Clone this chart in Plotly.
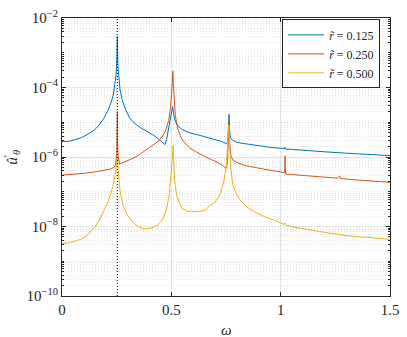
import plotly.graph_objects as go
import numpy as np

# omega values and log10 of amplitude
omega_a = [0.000, 0.03, 0.06, 0.09, 0.12, 0.15, 0.17, 0.19, 0.21, 0.225, 0.235, 0.242, 0.247, 0.250,
           0.252, 0.253, 0.254, 0.256, 0.26, 0.265, 0.275, 0.29, 0.31, 0.335, 0.36, 0.39, 0.42, 0.445,
           0.462, 0.470, 0.478, 0.487, 0.495, 0.501, 0.506, 0.510, 0.515, 0.522, 0.535, 0.55, 0.58,
           0.62, 0.66, 0.70, 0.73, 0.752, 0.758, 0.762, 0.764, 0.766, 0.770, 0.78, 0.80, 0.84, 0.90,
           0.95, 1.00, 1.017, 1.019, 1.021, 1.05, 1.10, 1.20, 1.30, 1.40, 1.50]
logu_a = [-5.56, -5.55, -5.50, -5.44, -5.34, -5.21, -5.08, -4.90, -4.66, -4.42, -4.20, -3.95, -3.65, -3.30,
          -2.90, -2.52, -2.95, -3.40, -3.75, -4.05, -4.35, -4.62, -4.88, -5.05, -5.16, -5.27, -5.38, -5.50,
          -5.58, -5.64, -5.50, -5.20, -4.95, -4.75, -4.55, -4.75, -4.92, -5.02, -5.14, -5.21, -5.30,
          -5.36, -5.44, -5.50, -5.55, -5.62, -5.55, -5.00, -4.77, -5.20, -5.45, -5.52, -5.58, -5.62, -5.68,
          -5.72, -5.75, -5.76, -5.72, -5.77, -5.78, -5.81, -5.85, -5.89, -5.92, -5.96]

omega_b = [0.000, 0.05, 0.10, 0.15, 0.19, 0.22, 0.238, 0.246, 0.250, 0.252, 0.253, 0.254, 0.256, 0.259,
           0.263, 0.268, 0.28, 0.30, 0.32, 0.35, 0.38, 0.41, 0.44, 0.46, 0.475, 0.488, 0.496, 0.502,
           0.505, 0.507, 0.509, 0.512, 0.518, 0.53, 0.545, 0.56, 0.58, 0.61, 0.64, 0.67, 0.70, 0.73,
           0.745, 0.752, 0.757, 0.761, 0.764, 0.767, 0.772, 0.78, 0.80, 0.84, 0.90, 0.95, 1.00, 1.017,
           1.019, 1.020, 1.021, 1.023, 1.05, 1.10, 1.20, 1.26, 1.270, 1.273, 1.35, 1.42, 1.50]
logu_b = [-6.52, -6.50, -6.47, -6.43, -6.39, -6.35, -6.30, -6.20, -5.90, -5.30, -4.69, -5.40, -5.95, -6.15,
          -6.20, -6.19, -6.16, -6.11, -6.05, -5.95, -5.82, -5.69, -5.55, -5.40, -5.22, -4.95, -4.60, -4.10,
          -3.75, -3.53, -3.85, -4.30, -4.80, -5.20, -5.45, -5.58, -5.72, -5.84, -5.95, -6.04, -6.12, -6.22,
          -6.30, -6.33, -6.10, -5.50, -5.00, -5.60, -5.95, -6.08, -6.16, -6.25, -6.33, -6.38, -6.43, -6.45,
          -6.30, -5.97, -6.35, -6.49, -6.50, -6.53, -6.58, -6.61, -6.55, -6.62, -6.66, -6.69, -6.73]

omega_c = [0.000, 0.03, 0.06, 0.09, 0.12, 0.15, 0.17, 0.19, 0.21, 0.225, 0.235, 0.243, 0.248, 0.251,
           0.253, 0.255, 0.258, 0.263, 0.27, 0.28, 0.30, 0.33, 0.36, 0.385, 0.41, 0.44, 0.46, 0.478,
           0.49, 0.498, 0.504, 0.508, 0.511, 0.515, 0.523, 0.537, 0.55, 0.575, 0.60, 0.65, 0.68, 0.70,
           0.724, 0.74, 0.752, 0.758, 0.763, 0.766, 0.772, 0.78, 0.79, 0.81, 0.844, 0.88, 0.92, 0.97,
           1.016, 1.02, 1.025, 1.07, 1.15, 1.27, 1.35, 1.42, 1.50]
logu_c = [-8.49, -8.47, -8.42, -8.36, -8.22, -8.02, -7.82, -7.57, -7.30, -7.02, -6.78, -6.50, -6.25, -6.05,
          -5.95, -6.20, -6.55, -6.85, -7.15, -7.40, -7.68, -7.92, -8.04, -8.07, -8.04, -7.95, -7.80, -7.50,
          -7.10, -6.60, -6.10, -5.67, -6.20, -6.65, -7.06, -7.33, -7.48, -7.56, -7.57, -7.55, -7.38, -7.30,
          -7.06, -6.69, -6.20, -5.70, -5.08, -5.60, -6.30, -6.75, -6.96, -7.20, -7.43, -7.58, -7.70, -7.82,
          -7.94, -7.90, -7.96, -8.03, -8.12, -8.24, -8.29, -8.33, -8.37]

series_names = ["0.125", "0.250", "0.500"]
omega_res = 0.253
y_major = [-10, -8, -6, -4, -2]

colors = ["#0072BD", "#D95319", "#EDB120"]
fig = go.Figure()
for om, lu, nm, c in zip([omega_a, omega_b, omega_c], [logu_a, logu_b, logu_c], series_names, colors):
    fig.add_trace(go.Scatter(x=om, y=[10 ** v for v in lu], mode="lines",
                             line=dict(color=c, width=1),
                             name=f"<i>r̃</i> = {nm}"))

fig.add_vline(x=omega_res, line=dict(color="black", width=1, dash="1px,2px"))

minor_vals = [k * 10.0 ** d for d in range(-10, -2) for k in range(2, 10)] + [10.0 ** d for d in range(-9, -2, 2)]
axis_col = "#262626"
fig.update_xaxes(range=[0, 1.5], tickvals=[0, 0.5, 1, 1.5], ticktext=["0", "0.5", "1", "1.5"],
                 showgrid=True, gridcolor="#e3e3e3", gridwidth=1, zeroline=False,
                 showline=True, linecolor=axis_col, linewidth=1, mirror="ticks",
                 ticks="inside", ticklen=4, tickcolor=axis_col, ticklabeloverflow="allow")
fig.update_yaxes(type="log", range=[-10, -2], tickvals=[10.0 ** v for v in y_major],
                 ticktext=[f"10<sup>−{-v}</sup>" for v in y_major],
                 showgrid=True, gridcolor="#e3e3e3", gridwidth=1, zeroline=False,
                 showline=True, linecolor=axis_col, linewidth=1, mirror="ticks",
                 ticks="inside", ticklen=4, tickcolor=axis_col, ticklabeloverflow="allow",
                 minor=dict(tickvals=minor_vals, ticks="inside", ticklen=2, tickcolor=axis_col,
                            showgrid=True, gridcolor="#e0e0e0", griddash="1px,2px", gridwidth=1))

fig.add_annotation(text="<i>ω</i>", x=0.5, y=-0.085, xref="paper", yref="paper",
                   showarrow=False, yanchor="top", font=dict(size=15))
fig.add_annotation(text="<i>û</i><sup>′</sup><sub><i>θ</i></sub>", x=-0.19, y=0.5,
                   xref="paper", yref="paper", showarrow=False, textangle=-90,
                   font=dict(size=15))

fig.update_layout(
    width=407, height=337,
    margin=dict(l=62, r=11, t=8, b=41),
    plot_bgcolor="white", paper_bgcolor="white",
    font=dict(family="Liberation Serif", size=15, color=axis_col),
    legend=dict(x=0.97, y=0.995, xanchor="right", yanchor="top",
                bgcolor="white", bordercolor=axis_col, borderwidth=1,
                font=dict(size=12), tracegroupgap=0, itemwidth=36),
)
fig.write_html("out.html", config={"displayModeBar": False},
               post_script="document.body.style.margin='0';")
